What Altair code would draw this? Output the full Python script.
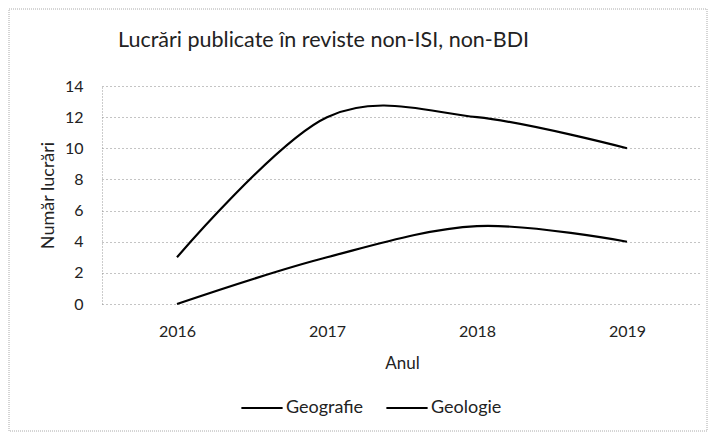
import altair as alt
import pandas as pd

years = ["2016", "2017", "2018", "2019"]
geografie = [0, 3, 5, 4]
geologie = [3, 12, 12, 10]
series_names = ["Geografie", "Geologie"]

rows = []
for name, vals in zip(series_names, [geografie, geologie]):
    for y, v in zip(years, vals):
        rows.append({"Anul": y, "Valoare": v, "Serie": name})
df = pd.DataFrame(rows)

FONT = "Lato"

lines = alt.Chart(df).mark_line(
    interpolate="cardinal", tension=0, strokeWidth=2.2, color="black"
).encode(
    x=alt.X("Anul:O", sort=years,
            scale=alt.Scale(type="point", padding=0.5),
            axis=alt.Axis(title="Anul", labelAngle=0, ticks=False, domain=False,
                          grid=False, labelPadding=19, titlePadding=16,
                          labelFontSize=16, titleFontSize=17, titleFontWeight="normal",
                          labelColor="#222", titleColor="#222",
                          labelFont=FONT, titleFont=FONT)),
    y=alt.Y("Valoare:Q",
            scale=alt.Scale(domain=[0, 14], nice=False),
            axis=alt.Axis(title="Număr lucrări", values=list(range(0, 15, 2)),
                          ticks=False, domain=True, domainColor="#999",
                          domainDash=[1, 2], domainWidth=1,
                          grid=True, gridColor="#888", gridDash=[1, 3], gridWidth=1,
                          labelPadding=19, titlePadding=7,
                          labelFontSize=16, titleFontSize=18, titleFontWeight="normal",
                          labelColor="#222", titleColor="#222",
                          labelFont=FONT, titleFont=FONT)),
    color=alt.Color("Serie:N", sort=series_names,
                    scale=alt.Scale(domain=series_names, range=["black", "black"]),
                    legend=alt.Legend(title=None, orient="none", direction="horizontal",
                                      legendX=138, legendY=300,
                                      symbolType="stroke", symbolSize=1700,
                                      symbolStrokeWidth=2, columnPadding=18,
                                      labelFontSize=18, labelFont=FONT,
                                      labelColor="#222", labelOffset=2))
)

border = alt.Chart(pd.DataFrame({"a": [0]})).mark_rect(
    fill=None, stroke="#aaa", strokeWidth=1, strokeDash=[1, 1]
).encode(
    x=alt.value(-93), x2=alt.value(605), y=alt.value(-77), y2=alt.value(345)
)

chart = alt.layer(border, lines).properties(
    width=600, height=218,
    autosize=alt.AutoSizeParams(type="none"),
    padding={"left": 94, "top": 78, "right": 6, "bottom": 128},
    title=alt.TitleParams("Lucrări publicate în reviste non-ISI, non-BDI",
                          anchor="start", frame="group", dx=16, offset=-65,
                          baseline="bottom",
                          fontSize=21.5, font=FONT, fontWeight="normal", color="#222")
).configure_view(stroke=None)

chart.save("out.html", embed_options={"renderer": "svg", "actions": False})
